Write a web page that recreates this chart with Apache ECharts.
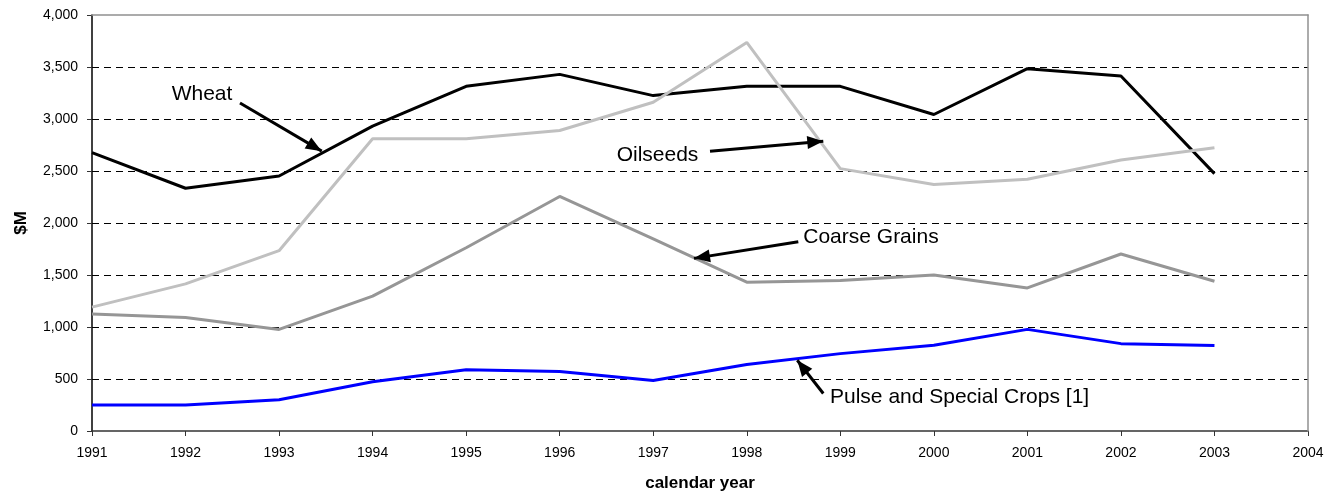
<!DOCTYPE html>
<html>
<head>
<meta charset="utf-8">
<script src="https://cdn.jsdelivr.net/npm/echarts@6/dist/echarts.min.js"></script>
<style>
html,body{margin:0;padding:0;background:#fff;}
#c{width:1335px;height:497px;}
</style>
</head>
<body>
<div id="c"></div>
<script>
const years = [1991,1992,1993,1994,1995,1996,1997,1998,1999,2000,2001,2002,2003];
const wheat    = [2676,2334,2452,2931,3314,3429,3225,3314,3314,3043,3484,3414,2475];
const oilseeds = [1191,1415,1734,2810,2810,2890,3161,3736,2523,2370,2420,2605,2724];
const coarse   = [1124,1092,977,1297,1762,2255,1847,1431,1446,1501,1376,1702,1440];
const pulse    = [249,249,300,473,588,572,486,639,744,824,977,840,821];
const yTicks = {min:0, max:4000, interval:500};
const xRange = {min:1991, max:2004, interval:1};

// annotations: text anchor (left, middle) and arrow [from, to] in data coords
const annotations = [
  {text:'Wheat', at:[1991.852,3243], from:[1992.582,3154], to:[1993.456,2691]},
  {text:'Oilseeds', at:[1996.609,2650], from:[1997.607,2691], to:[1998.818,2787]},
  {text:'Coarse Grains', at:[1998.604,1862], from:[1998.551,1820], to:[1997.436,1660]},
  {text:'Pulse and Special Crops [1]', at:[1998.890,329], from:[1998.818,361], to:[1998.540,680]}
];

const pairs = arr => years.map((y,i)=>[y,arr[i]]);
const FONT = '"Liberation Sans", Arial, sans-serif';

const chart = echarts.init(document.getElementById('c'));
const lineSeries = (name, data, color) => ({
  name, type:'line', data:pairs(data), showSymbol:false, symbol:'none',
  lineStyle:{color, width:3}, itemStyle:{color}, z:3, animation:false
});

const series = [
  lineSeries('Wheat', wheat, '#000000'),
  lineSeries('Oilseeds', oilseeds, '#c0c0c0'),
  lineSeries('Coarse Grains', coarse, '#969696'),
  lineSeries('Pulse and Special Crops [1]', pulse, '#0000ff')
];
series.push({
  type:'line', data:[], z:5, animation:false,
  markLine:{
    silent:true, animation:false,
    symbol:['none','triangle'], symbolSize:[13,16],
    symbolOffset:[0,[0,8]],
    lineStyle:{color:'#000', width:3, type:'solid'},
    itemStyle:{color:'#000'},
    label:{show:false},
    data: annotations.map(a=>[{coord:a.from},{coord:a.to}])
  }
});

chart.setOption({
  animation:false,
  backgroundColor:'#fff',
  grid:{left:92, right:27, top:15, bottom:64},
  xAxis:[{
    type:'value', min:xRange.min, max:xRange.max, interval:xRange.interval,
    name:'calendar year', nameLocation:'middle', nameGap:44,
    nameTextStyle:{fontFamily:FONT, fontSize:17, fontWeight:'bold', color:'#000'},
    axisLine:{onZero:false, lineStyle:{color:'#333', width:1.5}},
    axisTick:{show:true, length:5, lineStyle:{color:'#333'}},
    axisLabel:{fontFamily:FONT, fontSize:14, color:'#000', margin:15, formatter:v=>String(v)},
    splitLine:{show:false}
  },{
    type:'value', position:'top', min:xRange.min, max:xRange.max, interval:xRange.interval,
    z:4, axisLine:{show:true, onZero:false, lineStyle:{color:'#909090', width:1.5}},
    axisTick:{show:false}, axisLabel:{show:false}, splitLine:{show:false}
  }],
  yAxis:[{
    type:'value', min:yTicks.min, max:yTicks.max, interval:yTicks.interval,
    name:'$M', nameLocation:'middle', nameGap:62, nameRotate:90,
    nameTextStyle:{fontFamily:FONT, fontSize:17, fontWeight:'bold', color:'#000'},
    axisLine:{show:true, onZero:false, lineStyle:{color:'#000', width:1.5}},
    axisTick:{show:true, length:5, lineStyle:{color:'#333'}},
    axisLabel:{fontFamily:FONT, fontSize:14, color:'#000', margin:14,
      formatter:v=>v.toLocaleString('en-US')},
    splitLine:{show:true, showMaxLine:false, showMinLine:false,
      lineStyle:{color:'#000', type:[7,5], width:1}}
  },{
    type:'value', position:'right', min:yTicks.min, max:yTicks.max, interval:yTicks.interval,
    z:4, axisLine:{show:true, onZero:false, lineStyle:{color:'#909090', width:1.5}},
    axisTick:{show:false}, axisLabel:{show:false}, splitLine:{show:false}
  }],
  series
});

const texts = annotations.map(a=>{
  const p = chart.convertToPixel({gridIndex:0}, a.at);
  return {type:'text', x:p[0], y:p[1], z:10, silent:true,
    style:{text:a.text, font:'21px '+FONT, fill:'#000', textAlign:'left', textVerticalAlign:'middle'}};
});
chart.setOption({graphic:texts});
</script>
</body>
</html>
